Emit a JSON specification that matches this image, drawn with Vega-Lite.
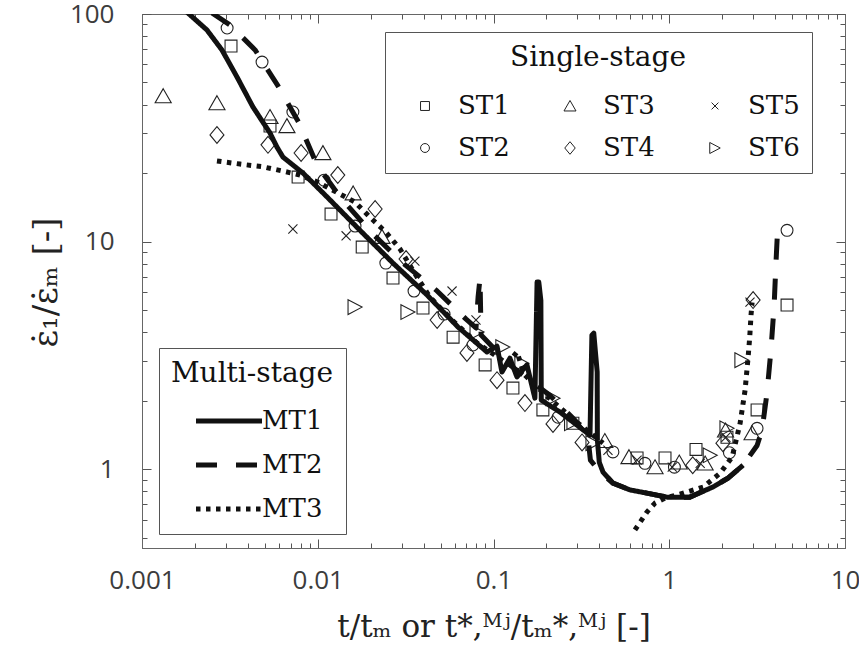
{
  "$schema": "https://vega.github.io/schema/vega-lite/v6.json",
  "width": 703,
  "height": 534,
  "autosize": {"type": "none"},
  "padding": {"left": 142, "top": 14, "right": 14, "bottom": 105},
  "background": "white",
  "config": {
    "view": {"stroke": "#666", "strokeWidth": 1},
    "axis": {
      "grid": false,
      "domainColor": "#666",
      "tickColor": "#555",
      "labelFont": "Open Sans",
      "labelFontSize": 26,
      "labelColor": "#3c3c3c",
      "labelFlush": false,
      "labelOverlap": false,
      "titleFont": "DejaVu Serif",
      "titleFontSize": 31,
      "titleFontWeight": "normal",
      "titleColor": "#222"
    }
  },
  "layer": [
    {
      "data": {"values": [
        {"s":"ST1","x":0.00321,"y":72.3},{"s":"ST1","x":0.00535,"y":32.2},{"s":"ST1","x":0.00773,"y":19.2},{"s":"ST1","x":0.0119,"y":13.2},{"s":"ST1","x":0.0179,"y":9.46},{"s":"ST1","x":0.0268,"y":6.91},{"s":"ST1","x":0.0397,"y":5.1},{"s":"ST1","x":0.0589,"y":3.8},{"s":"ST1","x":0.0896,"y":2.87},{"s":"ST1","x":0.129,"y":2.27},{"s":"ST1","x":0.191,"y":1.82},{"s":"ST1","x":0.283,"y":1.59},{"s":"ST1","x":0.656,"y":1.12},{"s":"ST1","x":0.946,"y":1.12},{"s":"ST1","x":1.42,"y":1.22},{"s":"ST1","x":2.13,"y":1.38},{"s":"ST1","x":3.16,"y":1.82},{"s":"ST1","x":4.68,"y":5.26},
        {"s":"ST2","x":0.00305,"y":86.8},{"s":"ST2","x":0.00482,"y":61.5},{"s":"ST2","x":0.00722,"y":37.1},{"s":"ST2","x":0.01086,"y":18.6},{"s":"ST2","x":0.0163,"y":11.7},{"s":"ST2","x":0.0244,"y":8.04},{"s":"ST2","x":0.0353,"y":6.06},{"s":"ST2","x":0.0523,"y":4.8},{"s":"ST2","x":0.0764,"y":3.51},{"s":"ST2","x":0.233,"y":1.69},{"s":"ST2","x":0.478,"y":1.19},{"s":"ST2","x":0.727,"y":1.06},{"s":"ST2","x":1.07,"y":1.02},{"s":"ST2","x":2.2,"y":1.18},{"s":"ST2","x":3.16,"y":1.51},{"s":"ST2","x":4.68,"y":11.2},
        {"s":"ST3","x":0.00132,"y":43.6},{"s":"ST3","x":0.00267,"y":40.6},{"s":"ST3","x":0.00535,"y":35.3},{"s":"ST3","x":0.00668,"y":32.2},{"s":"ST3","x":0.0107,"y":24.5},{"s":"ST3","x":0.0159,"y":16.3},{"s":"ST3","x":0.0232,"y":10.5},{"s":"ST3","x":0.43,"y":1.33},{"s":"ST3","x":0.59,"y":1.13},{"s":"ST3","x":0.83,"y":1.02},{"s":"ST3","x":1.14,"y":1.07},{"s":"ST3","x":1.6,"y":1.06},{"s":"ST3","x":2.09,"y":1.48},{"s":"ST3","x":2.96,"y":1.44},
        {"s":"ST4","x":0.00267,"y":29.4},{"s":"ST4","x":0.00521,"y":26.6},{"s":"ST4","x":0.00804,"y":24.5},{"s":"ST4","x":0.013,"y":19.6},{"s":"ST4","x":0.0212,"y":13.9},{"s":"ST4","x":0.0318,"y":8.38},{"s":"ST4","x":0.0478,"y":4.52},{"s":"ST4","x":0.0706,"y":3.24},{"s":"ST4","x":0.1047,"y":2.46},{"s":"ST4","x":0.151,"y":1.95},{"s":"ST4","x":0.218,"y":1.58},{"s":"ST4","x":0.319,"y":1.31},{"s":"ST4","x":1.36,"y":1.04},{"s":"ST4","x":2.02,"y":1.3},{"s":"ST4","x":3.0,"y":5.53},
        {"s":"ST5","x":0.00722,"y":11.35},{"s":"ST5","x":0.0145,"y":10.6},{"s":"ST5","x":0.0357,"y":8.2},{"s":"ST5","x":0.0581,"y":6.06},{"s":"ST5","x":0.0795,"y":4.52},{"s":"ST5","x":0.448,"y":1.21},{"s":"ST5","x":0.656,"y":1.095},{"s":"ST5","x":1.04,"y":1.02},{"s":"ST5","x":1.5,"y":1.06},{"s":"ST5","x":2.1,"y":1.38},{"s":"ST5","x":2.88,"y":5.42},
        {"s":"ST6","x":0.0163,"y":5.15},{"s":"ST6","x":0.0326,"y":4.9},{"s":"ST6","x":0.0806,"y":4.0},{"s":"ST6","x":0.113,"y":3.44},{"s":"ST6","x":0.145,"y":2.92},{"s":"ST6","x":0.218,"y":2.05},{"s":"ST6","x":0.278,"y":1.59},{"s":"ST6","x":0.368,"y":1.3},{"s":"ST6","x":1.71,"y":1.15},{"s":"ST6","x":2.13,"y":1.51},{"s":"ST6","x":2.59,"y":3.01}
      ]},
      "mark": {"type": "point", "filled": false, "stroke": "#222", "strokeWidth": 1.1, "size": 196, "opacity": 1, "clip": true},
      "encoding": {
        "x": {
          "field": "x", "type": "quantitative",
          "scale": {"type": "log", "domain": [0.001, 10], "nice": false},
          "axis": {
            "orient": "bottom",
            "title": "t/tₘ or t*,ᴹʲ/tₘ*,ᴹʲ [-]",
            "values": [0.001,0.002,0.003,0.004,0.005,0.006,0.007,0.008,0.009,0.01,0.02,0.03,0.04,0.05,0.06,0.07,0.08,0.09,0.1,0.2,0.3,0.4,0.5,0.6,0.7,0.8,0.9,1,2,3,4,5,6,7,8,9,10],
            "labelExpr": "indexof([0.001,0.01,0.1,1,10], datum.value) >= 0 ? format(datum.value, '~g') : ''",
            "tickSize": {"condition": {"test": "indexof([0.001,0.01,0.1,1,10], datum.value) >= 0", "value": -9}, "value": -5},
            "labelPadding": 28,
            "titleY": 88,
            "titleBaseline": "alphabetic"
          }
        },
        "y": {
          "field": "y", "type": "quantitative",
          "scale": {"type": "log", "domain": [0.45, 100], "nice": false},
          "axis": {
            "orient": "left",
            "title": "ε̇₁/ε̇ₘ [-]",
            "titleFontSize": 34,
            "values": [0.5,0.6,0.7,0.8,0.9,1,2,3,4,5,6,7,8,9,10,20,30,40,50,60,70,80,90,100],
            "labelExpr": "indexof([1,10,100], datum.value) >= 0 ? format(datum.value, '~g') : ''",
            "tickSize": {"condition": {"test": "indexof([1,10,100], datum.value) >= 0", "value": -9}, "value": -5},
            "labelPadding": 37,
            "titleX": -86,
            "titleY": 268,
            "titleAlign": "center",
            "titleBaseline": "alphabetic"
          }
        },
        "shape": {
          "field": "s", "type": "nominal",
          "scale": {
            "domain": ["ST1","ST2","ST3","ST4","ST5","ST6"],
            "range": [
              "M-0.85,-0.85L0.85,-0.85L0.85,0.85L-0.85,0.85Z",
              "M0.85,0A0.85,0.85,0,1,1,-0.85,0A0.85,0.85,0,1,1,0.85,0Z",
              "M0,-1.05L1.15,0.95L-1.15,0.95Z",
              "M0,-1.2L1,0L0,1.2L-1,0Z",
              "M-0.65,-0.65L0.65,0.65M-0.65,0.65L0.65,-0.65",
              "M-1,-1.05L1,0L-1,1.05Z"
            ]
          },
          "legend": {
            "title": "Single-stage",
            "orient": "none",
            "direction": "vertical",
            "legendX": 243,
            "legendY": 18,
            "columns": 3,
            "symbolSize": 110,
            "symbolStrokeColor": "#222",
            "symbolStrokeWidth": 1,
            "symbolFillColor": "transparent",
            "labelFont": "DejaVu Serif",
            "labelFontSize": 26,
            "labelColor": "#111",
            "titleFont": "DejaVu Serif",
            "titleFontSize": 28,
            "titleFontWeight": "normal",
            "titleColor": "#111",
            "titleAnchor": "middle",
            "strokeColor": "#555",
            "fillColor": "white",
            "padding": 12,
            "symbolOffset": 15,
            "labelOffset": 20,
            "columnPadding": 32,
            "rowPadding": 16,
            "titlePadding": 21
          }
        }
      }
    },
    {
      "data": {"values": [
        {"m":"MT1","seg":1,"o":1,"x":0.0018,"y":102},{"m":"MT1","seg":1,"o":2,"x":0.00234,"y":85.1},{"m":"MT1","seg":1,"o":3,"x":0.00285,"y":69.5},{"m":"MT1","seg":1,"o":4,"x":0.00347,"y":52.9},{"m":"MT1","seg":1,"o":5,"x":0.00428,"y":39.0},{"m":"MT1","seg":1,"o":6,"x":0.00535,"y":30.0},{"m":"MT1","seg":1,"o":7,"x":0.00586,"y":26.0},{"m":"MT1","seg":1,"o":8,"x":0.00634,"y":23.5},{"m":"MT1","seg":1,"o":9,"x":0.00824,"y":20.0},{"m":"MT1","seg":1,"o":10,"x":0.0113,"y":15.7},{"m":"MT1","seg":1,"o":11,"x":0.0174,"y":11.2},{"m":"MT1","seg":1,"o":12,"x":0.0268,"y":8.04},{"m":"MT1","seg":1,"o":13,"x":0.0419,"y":5.82},{"m":"MT1","seg":1,"o":14,"x":0.0628,"y":4.21},{"m":"MT1","seg":1,"o":15,"x":0.0918,"y":3.27},{"m":"MT1","seg":1,"o":16,"x":0.1047,"y":3.47},{"m":"MT1","seg":1,"o":17,"x":0.1117,"y":2.67},{"m":"MT1","seg":1,"o":18,"x":0.124,"y":3.07},{"m":"MT1","seg":1,"o":19,"x":0.136,"y":2.54},{"m":"MT1","seg":1,"o":20,"x":0.155,"y":2.87},{"m":"MT1","seg":1,"o":21,"x":0.172,"y":2.05},{"m":"MT1","seg":1,"o":22,"x":0.177,"y":6.64},{"m":"MT1","seg":1,"o":23,"x":0.181,"y":6.64},{"m":"MT1","seg":1,"o":24,"x":0.186,"y":5.5},{"m":"MT1","seg":1,"o":25,"x":0.187,"y":2.01},{"m":"MT1","seg":1,"o":26,"x":0.239,"y":1.78},{"m":"MT1","seg":1,"o":27,"x":0.354,"y":1.41},{"m":"MT1","seg":1,"o":28,"x":0.363,"y":3.88},{"m":"MT1","seg":1,"o":29,"x":0.372,"y":3.96},{"m":"MT1","seg":1,"o":30,"x":0.389,"y":2.67},{"m":"MT1","seg":1,"o":31,"x":0.39,"y":1.34},{"m":"MT1","seg":1,"o":32,"x":0.4,"y":1.07},{"m":"MT1","seg":1,"o":33,"x":0.42,"y":0.97},{"m":"MT1","seg":1,"o":34,"x":0.478,"y":0.868},{"m":"MT1","seg":1,"o":35,"x":0.598,"y":0.81},{"m":"MT1","seg":1,"o":36,"x":0.746,"y":0.784},{"m":"MT1","seg":1,"o":37,"x":0.971,"y":0.753},{"m":"MT1","seg":1,"o":38,"x":1.31,"y":0.753},{"m":"MT1","seg":1,"o":39,"x":1.77,"y":0.834},{"m":"MT1","seg":1,"o":40,"x":2.16,"y":0.913},{"m":"MT1","seg":1,"o":41,"x":2.63,"y":1.04},
        {"m":"MT2","seg":1,"o":1,"x":0.0025,"y":101},{"m":"MT2","seg":1,"o":2,"x":0.00317,"y":89.5},{"m":"MT2","seg":1,"o":3,"x":0.0044,"y":69.5},{"m":"MT2","seg":1,"o":4,"x":0.00594,"y":48.3},{"m":"MT2","seg":1,"o":5,"x":0.00782,"y":33.2},{"m":"MT2","seg":1,"o":6,"x":0.0099,"y":21.7},{"m":"MT2","seg":1,"o":7,"x":0.01356,"y":15.5},{"m":"MT2","seg":1,"o":8,"x":0.0201,"y":11.0},{"m":"MT2","seg":1,"o":9,"x":0.03,"y":8.13},{"m":"MT2","seg":1,"o":10,"x":0.0471,"y":6.12},{"m":"MT2","seg":1,"o":11,"x":0.0698,"y":4.56},{"m":"MT2","seg":1,"o":12,"x":0.0795,"y":4.17},{"m":"MT2","seg":1,"o":13,"x":0.0817,"y":5.7},{"m":"MT2","seg":1,"o":14,"x":0.0838,"y":6.9},{"m":"MT2","seg":1,"o":15,"x":0.085,"y":3.88},{"m":"MT2","seg":1,"o":16,"x":0.124,"y":2.87},{"m":"MT2","seg":1,"o":17,"x":0.209,"y":2.11},{"m":"MT2","seg":1,"o":18,"x":0.291,"y":1.64},{"m":"MT2","seg":1,"o":19,"x":0.345,"y":1.37},{"m":"MT2","seg":1,"o":20,"x":0.356,"y":1.095},{"m":"MT2","seg":1,"o":21,"x":0.404,"y":0.97},{"m":"MT2","seg":1,"o":22,"x":0.478,"y":0.868},{"m":"MT2","seg":1,"o":23,"x":0.598,"y":0.81},{"m":"MT2","seg":1,"o":24,"x":0.746,"y":0.784},{"m":"MT2","seg":1,"o":25,"x":0.971,"y":0.753},{"m":"MT2","seg":1,"o":26,"x":1.31,"y":0.753},{"m":"MT2","seg":1,"o":27,"x":1.77,"y":0.834},{"m":"MT2","seg":1,"o":28,"x":2.16,"y":0.913},{"m":"MT2","seg":1,"o":29,"x":2.63,"y":1.04},{"m":"MT2","seg":1,"o":30,"x":3.16,"y":1.27},{"m":"MT2","seg":1,"o":31,"x":3.37,"y":1.48},{"m":"MT2","seg":1,"o":32,"x":3.6,"y":2.16},{"m":"MT2","seg":1,"o":33,"x":3.79,"y":3.34},{"m":"MT2","seg":1,"o":34,"x":3.95,"y":5.2},{"m":"MT2","seg":1,"o":35,"x":4.05,"y":8.13},{"m":"MT2","seg":1,"o":36,"x":4.16,"y":12.4},
        {"m":"MT3","seg":1,"o":1,"x":0.00267,"y":22.6},{"m":"MT3","seg":1,"o":2,"x":0.00361,"y":21.9},{"m":"MT3","seg":1,"o":3,"x":0.00488,"y":21.3},{"m":"MT3","seg":1,"o":4,"x":0.00634,"y":20.4},{"m":"MT3","seg":1,"o":5,"x":0.00793,"y":19.6},{"m":"MT3","seg":1,"o":6,"x":0.0099,"y":18.3},{"m":"MT3","seg":1,"o":7,"x":0.0122,"y":16.8},{"m":"MT3","seg":1,"o":8,"x":0.0163,"y":14.9},{"m":"MT3","seg":1,"o":9,"x":0.0198,"y":12.8},{"m":"MT3","seg":1,"o":10,"x":0.0244,"y":11.0},{"m":"MT3","seg":1,"o":11,"x":0.0294,"y":9.27},{"m":"MT3","seg":1,"o":12,"x":0.0367,"y":6.98},{"m":"MT3","seg":1,"o":13,"x":0.0435,"y":5.7},{"m":"MT3","seg":1,"o":14,"x":0.0581,"y":4.52},{"m":"MT3","seg":1,"o":15,"x":0.08,"y":3.6},{"m":"MT3","seg":1,"o":16,"x":0.12,"y":2.9},{"m":"MT3","seg":1,"o":17,"x":0.136,"y":3.27},{"m":"MT3","seg":1,"o":18,"x":0.15,"y":2.6},{"m":"MT3","seg":1,"o":19,"x":0.2,"y":2.1},{"m":"MT3","seg":1,"o":20,"x":0.3,"y":1.6},{"m":"MT3","seg":1,"o":21,"x":0.42,"y":1.3},
        {"m":"MT3","seg":2,"o":22,"x":0.638,"y":0.54},{"m":"MT3","seg":2,"o":23,"x":0.746,"y":0.647},{"m":"MT3","seg":2,"o":24,"x":0.83,"y":0.709},{"m":"MT3","seg":2,"o":25,"x":0.947,"y":0.746},{"m":"MT3","seg":2,"o":26,"x":1.15,"y":0.776},{"m":"MT3","seg":2,"o":27,"x":1.56,"y":0.834},{"m":"MT3","seg":2,"o":28,"x":1.95,"y":0.96},{"m":"MT3","seg":2,"o":29,"x":2.28,"y":1.13},{"m":"MT3","seg":2,"o":30,"x":2.53,"y":1.59},{"m":"MT3","seg":2,"o":31,"x":2.7,"y":2.22},{"m":"MT3","seg":2,"o":32,"x":2.81,"y":3.1},{"m":"MT3","seg":2,"o":33,"x":2.87,"y":3.8},{"m":"MT3","seg":2,"o":34,"x":2.92,"y":4.76},{"m":"MT3","seg":2,"o":35,"x":2.96,"y":5.4}
      ]},
      "mark": {"type": "line", "color": "#111", "strokeWidth": 5, "clip": true, "strokeCap": "butt", "strokeJoin": "round"},
      "encoding": {
        "x": {
          "field": "x", "type": "quantitative",
          "scale": {"type": "log", "domain": [0.001, 10], "nice": false},
          "axis": {
            "orient": "top",
            "title": null,
            "labels": false,
            "values": [0.001,0.002,0.003,0.004,0.005,0.006,0.007,0.008,0.009,0.01,0.02,0.03,0.04,0.05,0.06,0.07,0.08,0.09,0.1,0.2,0.3,0.4,0.5,0.6,0.7,0.8,0.9,1,2,3,4,5,6,7,8,9,10],
            "tickSize": {"condition": {"test": "indexof([0.001,0.01,0.1,1,10], datum.value) >= 0", "value": -9}, "value": -5}
          }
        },
        "y": {
          "field": "y", "type": "quantitative",
          "scale": {"type": "log", "domain": [0.45, 100], "nice": false},
          "axis": {
            "orient": "right",
            "title": null,
            "labels": false,
            "values": [0.5,0.6,0.7,0.8,0.9,1,2,3,4,5,6,7,8,9,10,20,30,40,50,60,70,80,90,100],
            "tickSize": {"condition": {"test": "indexof([1,10,100], datum.value) >= 0", "value": -9}, "value": -5}
          }
        },
        "strokeDash": {
          "field": "m", "type": "nominal",
          "scale": {"domain": ["MT1","MT2","MT3"], "range": [[1,0],[21,19],[4.5,5.5]]},
          "legend": {
            "title": "Multi-stage",
            "orient": "none",
            "legendX": 17,
            "legendY": 334,
            "symbolType": "M-6,0H6",
            "symbolSize": 121,
            "symbolStrokeWidth": 5,
            "symbolStrokeColor": "#111",
            "symbolFillColor": "transparent",
            "labelFont": "DejaVu Serif",
            "labelFontSize": 26,
            "labelColor": "#111",
            "titleFont": "DejaVu Serif",
            "titleFontSize": 28,
            "titleFontWeight": "normal",
            "titleColor": "#111",
            "titleAnchor": "middle",
            "strokeColor": "#555",
            "fillColor": "white",
            "padding": 12,
            "symbolOffset": 34,
            "labelOffset": 20,
            "rowPadding": 18,
            "titlePadding": 20
          }
        },
        "detail": {"field": "seg", "type": "nominal"},
        "order": {"field": "o", "type": "quantitative"}
      }
    }
  ],
  "resolve": {"axis": {"x": "independent", "y": "independent"}}
}
